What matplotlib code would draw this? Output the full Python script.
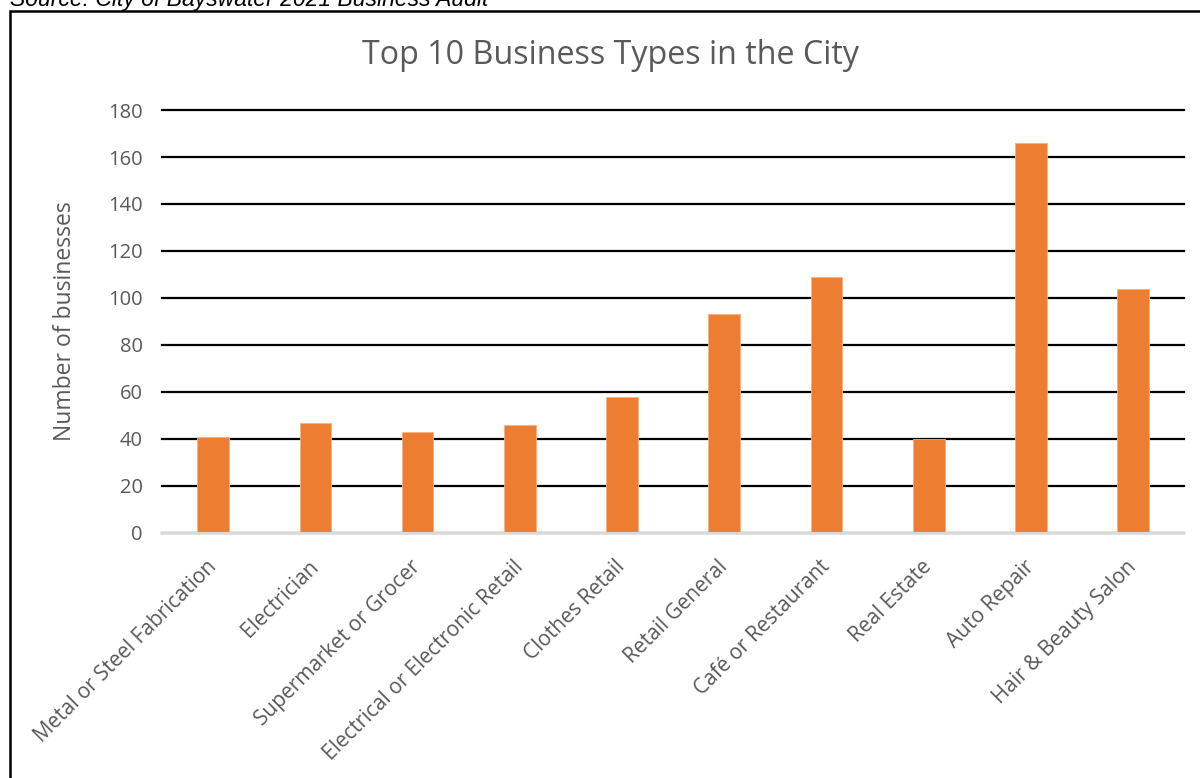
import matplotlib
matplotlib.use("Agg")
import matplotlib.pyplot as plt
from matplotlib.patches import Rectangle

categories = [
    "Metal or Steel Fabrication",
    "Electrician",
    "Supermarket or Grocer",
    "Electrical or Electronic Retail",
    "Clothes Retail",
    "Retail General",
    "Café or Restaurant",
    "Real Estate",
    "Auto Repair",
    "Hair & Beauty Salon",
]
counts = [41, 47, 43, 46, 58, 93, 109, 40, 166, 104]
y_ticks = [0, 20, 40, 60, 80, 100, 120, 140, 160, 180]

plt.rcParams["font.family"] = ["Open Sans", "DejaVu Sans"]
text_grey = "#595959"
bar_color = "#ED7D31"

fig = plt.figure(figsize=(12, 7.78), dpi=100)
ax = fig.add_axes([0.135, 0.315, 0.852, 0.5436])

x = list(range(len(categories)))
ax.bar(x, counts, width=0.31, color=bar_color, edgecolor="#F4B183", linewidth=0.6, zorder=3)

ax.set_ylim(0, 180)
ax.set_xlim(-0.5, len(categories) - 0.5)
ax.set_yticks(y_ticks)
ax.set_yticklabels([str(t) for t in y_ticks], fontsize=14.5, color=text_grey)
ax.set_xticks(x)
ax.set_xticklabels(categories, rotation=45, ha="right", va="center",
                   rotation_mode="anchor", fontsize=15, color=text_grey)
ax.tick_params(axis="y", length=0, pad=14)
ax.tick_params(axis="x", length=0, pad=22)

ax.grid(axis="y", color="black", linewidth=1.6, zorder=0)
ax.set_axisbelow(True)
for line in ax.get_ygridlines():
    line.set_clip_on(False)
for side in ("top", "right", "left"):
    ax.spines[side].set_visible(False)
ax.spines["bottom"].set_color("#D9D9D9")
ax.spines["bottom"].set_linewidth(1.5)
ax.spines["bottom"].set_zorder(4)

ax.set_ylabel("Number of businesses", fontsize=16.5, color=text_grey, labelpad=22)

fig.text(0.509, 1 - 55 / 778, "Top 10 Business Types in the City", ha="center", va="center",
         fontsize=23.2, color=text_grey)

fig.text(10 / 1200, 1 - 6 / 778, "Source: City of Bayswater 2021 Business Audit",
         ha="left", va="baseline", fontsize=16.5, style="italic",
         family=["Liberation Sans", "DejaVu Sans"], color="black")

frame = Rectangle((10 / 1200, -0.05), 1.2, 1 - 11 / 778 + 0.05, transform=fig.transFigure,
                  fill=False, edgecolor="black", linewidth=1.8, clip_on=False)
fig.patches.append(frame)

fig.savefig("out.png", dpi=100)
